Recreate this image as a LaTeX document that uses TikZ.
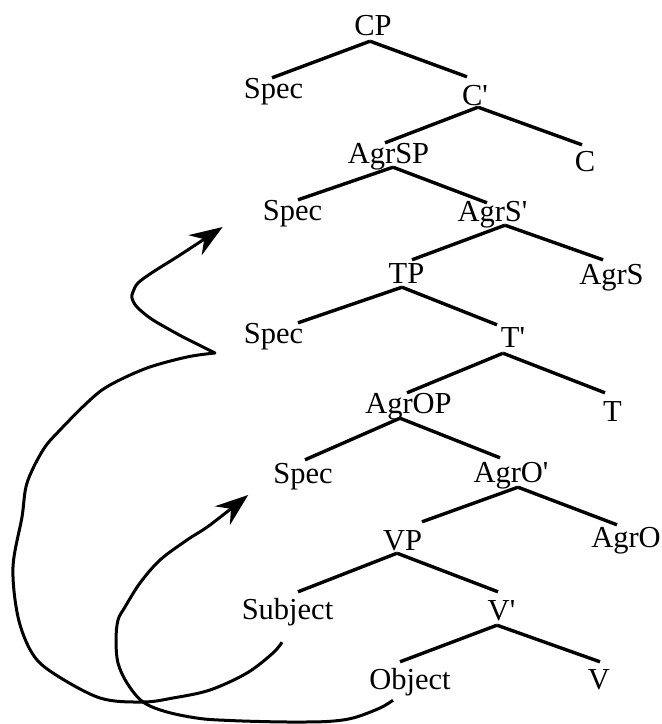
\documentclass[tikz,border=0pt]{standalone}
\usepackage{fontspec}
\newfontfamily\tmfont{Liberation Serif}
\usetikzlibrary{calc,arrows.meta}
\begin{document}
\begin{tikzpicture}[x=1pt,y=-1pt,
  lbl/.style={font=\tmfont\fontsize{30.5}{36}\selectfont, inner sep=0pt,
    text height=21pt, text depth=6pt, anchor=base},
  branch/.style={line width=3.4pt},
  movearrow/.style={line width=3pt, line join=round,
    -{Stealth[length=33pt,width=24pt,inset=11pt]}}]
\useasboundingbox (0,0) rectangle (662,724);
% nodes
\node[lbl] (CP) at (373,35) {CP};
\node[lbl] (Spec1) at (273.5,98) {Spec};
\node[lbl] (Cbar) at (475,105) {C'};
\node[lbl] (AgrSP) at (388.5,163) {AgrSP};
\node[lbl] (C) at (585,171) {C};
\node[lbl] (Spec2) at (292.5,220) {Spec};
\node[lbl] (AgrSbar) at (492.5,221) {AgrS'};
\node[lbl] (TP) at (406.5,283) {TP};
\node[lbl] (AgrS) at (611.5,284) {AgrS};
\node[lbl] (Spec3) at (273.5,343) {Spec};
\node[lbl] (Tbar) at (513,347) {T'};
\node[lbl] (AgrOP) at (408.5,413) {AgrOP};
\node[lbl] (T) at (612.5,421) {T};
\node[lbl] (Spec4) at (303,483) {Spec};
\node[lbl] (AgrObar) at (511,482) {AgrO'};
\node[lbl] (VP) at (402.5,550) {VP};
\node[lbl] (AgrO) at (626,547) {AgrO};
\node[lbl] (Subj) at (287.5,619) {Subject};
\node[lbl] (Vbar) at (501.5,620) {V'};
\node[lbl] (Obj) at (410,689) {Object};
\node[lbl] (V) at (599,689) {V};
% branches
\draw[branch] ($(CP.south)+(-3,0)$) -- ($(Spec1.north)+(-1.5,1)$);
\draw[branch] ($(CP.south)+(-3,0)$) -- ($(Cbar.north)+(-8,-7)$);
\draw[branch] ($(Cbar.south)+(3,-4)$) -- ($(AgrSP.north)+(-3.5,1)$);
\draw[branch] ($(Cbar.south)+(3,-4)$) -- ($(C.north)+(-3,-5)$);
\draw[branch] ($(AgrSP.south)+(4.5,-2)$) -- ($(Spec2.north)+(5.5,1)$);
\draw[branch] ($(AgrSP.south)+(4.5,-2)$) -- ($(AgrSbar.north)+(-5.5,3)$);
\draw[branch] ($(AgrSbar.south)+(12.5,-2)$) -- ($(TP.north)+(5.5,-2)$);
\draw[branch] ($(AgrSbar.south)+(12.5,-2)$) -- ($(AgrS.north)+(-8.5,-3)$);
\draw[branch] ($(TP.south)+(-4.5,-2)$) -- ($(Spec3.north)+(24.5,1)$);
\draw[branch] ($(TP.south)+(-4.5,-2)$) -- ($(Tbar.north)+(-16,-1)$);
\draw[branch] ($(Tbar.south)+(-10,0)$) -- ($(AgrOP.north)+(-1.5,1)$);
\draw[branch] ($(Tbar.south)+(-10,0)$) -- ($(T.north)+(-7.5,-7)$);
\draw[branch] ($(AgrOP.south)+(-8.5,-1)$) -- ($(Spec4.north)+(2,-2)$);
\draw[branch] ($(AgrOP.south)+(-8.5,-1)$) -- ($(AgrObar.north)+(-11,-3)$);
\draw[branch] ($(AgrObar.south)+(7,-1)$) -- ($(VP.north)+(19.5,-7)$);
\draw[branch] ($(AgrObar.south)+(7,-1)$) -- ($(AgrO.north)+(-9,-1)$);
\draw[branch] ($(VP.south)+(-5.5,-3)$) -- ($(Subj.north)+(10.5,-6)$);
\draw[branch] ($(VP.south)+(-5.5,-3)$) -- ($(Vbar.north)+(-3.5,-7)$);
\draw[branch] ($(Vbar.south)+(-4.5,-1)$) -- ($(Obj.north)+(-10,-6)$);
\draw[branch] ($(Vbar.south)+(-4.5,-1)$) -- ($(V.north)+(1,-6)$);
% movement arrows
\coordinate (kink) at (215,353);
\draw[movearrow] plot[smooth, tension=0.55] coordinates {
  ($(Subj.south)+(-5.5,17)$) (273,653) (247,673) (210,690) (173,698) (143,702)
  (100,698) (53,673) (32,653) (18,617) (13,567) (22,517) (27,483) (43,450)
  (60,430) (90,400) (110,385) (147,368) (187,357) (kink)}
  -- plot[smooth, tension=0.55] coordinates {
  (183,337) (153,320) (137,307) (132,298) (133,292) (138,283) (153,272)
  (180,255) ($(Spec2.west)+(-40,14.5)$)};
\draw[movearrow] plot[smooth, tension=0.55] coordinates {
  ($(Obj.south)+(-17,5)$) (380,708) (353,718) (327,721.5) (290,722)
  (260,721.5) (230,720.5) (200,718.5) (167,712) (143,702) (127,683) (118,663)
  (116,640) (118,620) (125,607) (140,583) (160,560) (187,540) (210,525)
  ($(Spec4.west)+(-25,19.5)$)};
\end{tikzpicture}
\end{document}
